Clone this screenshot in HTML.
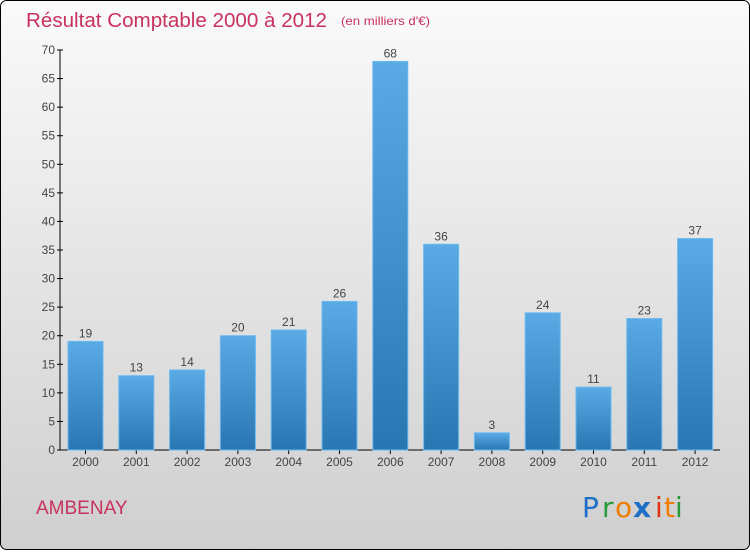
<!DOCTYPE html>
<html><head><meta charset="utf-8"><style>
body{margin:0;width:750px;height:550px;overflow:hidden;font-family:"Liberation Sans",sans-serif}
</style></head><body>
<svg width="750" height="550" xmlns="http://www.w3.org/2000/svg">
<defs>
<linearGradient id="bg" x1="0" y1="0" x2="0" y2="1"><stop offset="0" stop-color="#fafafa"/><stop offset="1" stop-color="#cfcfcf"/></linearGradient>
<linearGradient id="bar" x1="0" y1="0" x2="0" y2="1"><stop offset="0" stop-color="#5aaae6"/><stop offset="1" stop-color="#2a76b2"/></linearGradient>
</defs>
<rect x="0.5" y="0.5" width="749" height="549" rx="6" fill="url(#bg)" stroke="#000"/>
<text x="26" y="27" font-size="20" fill="#c8325f" textLength="301" lengthAdjust="spacingAndGlyphs">Résultat Comptable 2000 à 2012</text>
<text x="341" y="25" font-size="12" fill="#c8325f" textLength="89" lengthAdjust="spacingAndGlyphs">(en milliers d'€)</text>
<g id="axes"></g>
<g id="bars"></g>
<text x="36" y="514" font-size="19" fill="#c8325f">AMBENAY</text>
<g font-size="28" font-family="'DejaVu Sans',sans-serif">
<text x="582" y="517" fill="#1e6fc8">P</text><text x="602" y="517" fill="#2a9a3a">r</text><text x="615" y="517" fill="#f07d00">o</text><text x="633" y="517" fill="#1e6fc8" font-weight="bold">x</text><text x="655" y="517" fill="#e03010">i</text><text x="664" y="517" fill="#f07d00">t</text><text x="675" y="517" fill="#2a9a3a">i</text>
</g>
</svg>
<script>
const years=["2000","2001","2002","2003","2004","2005","2006","2007","2008","2009","2010","2011","2012"];
const values=[19,13,14,20,21,26,68,36,3,24,11,23,37];
const yTicks=[0,5,10,15,20,25,30,35,40,45,50,55,60,65,70];
const NS="http://www.w3.org/2000/svg";
const y0=450,yTop=50,yMax=70,xL=60,xR=720;
const yS=v=>y0-(v/yMax)*(y0-yTop);
const xS=i=>85.5+i*50.8;
function mk(t,a,p,txt){const e=document.createElementNS(NS,t);for(const k in a)e.setAttribute(k,a[k]);if(txt!==undefined)e.textContent=txt;p.appendChild(e);return e;}
const ax=document.getElementById('axes'),bg=document.getElementById('bars');
let l=mk('line',{x1:xL,y1:yTop,x2:xL,y2:y0,stroke:'#000'},ax);


l=mk('line',{x1:xL,y1:y0,x2:xR,y2:y0,stroke:'#000'},ax);


yTicks.forEach(v=>{const y=yS(v);
mk('line',{x1:xL-3,y1:y,x2:xL+3,y2:y,stroke:'#000'},ax);
const t=mk('text',{x:xL-5,y:y+4,'text-anchor':'end','font-size':12,fill:'#444'},ax,v);

});
years.forEach((yr,i)=>{const cx=xS(i),v=values[i];
const r=mk('rect',{x:cx-17.5,y:yS(v),width:35,height:y0-yS(v),fill:'url(#bar)',stroke:'#6ab8f0','stroke-width':1},bg);


const t=mk('text',{x:cx,y:yS(v)-4,'text-anchor':'middle','font-size':12,fill:'#444'},bg,v);


mk('line',{x1:cx,y1:y0,x2:cx,y2:y0+4,stroke:'#000'},ax);
const x=mk('text',{x:cx,y:y0+16,'text-anchor':'middle','font-size':12,fill:'#444'},ax,yr);

});
</script>
</body></html>
